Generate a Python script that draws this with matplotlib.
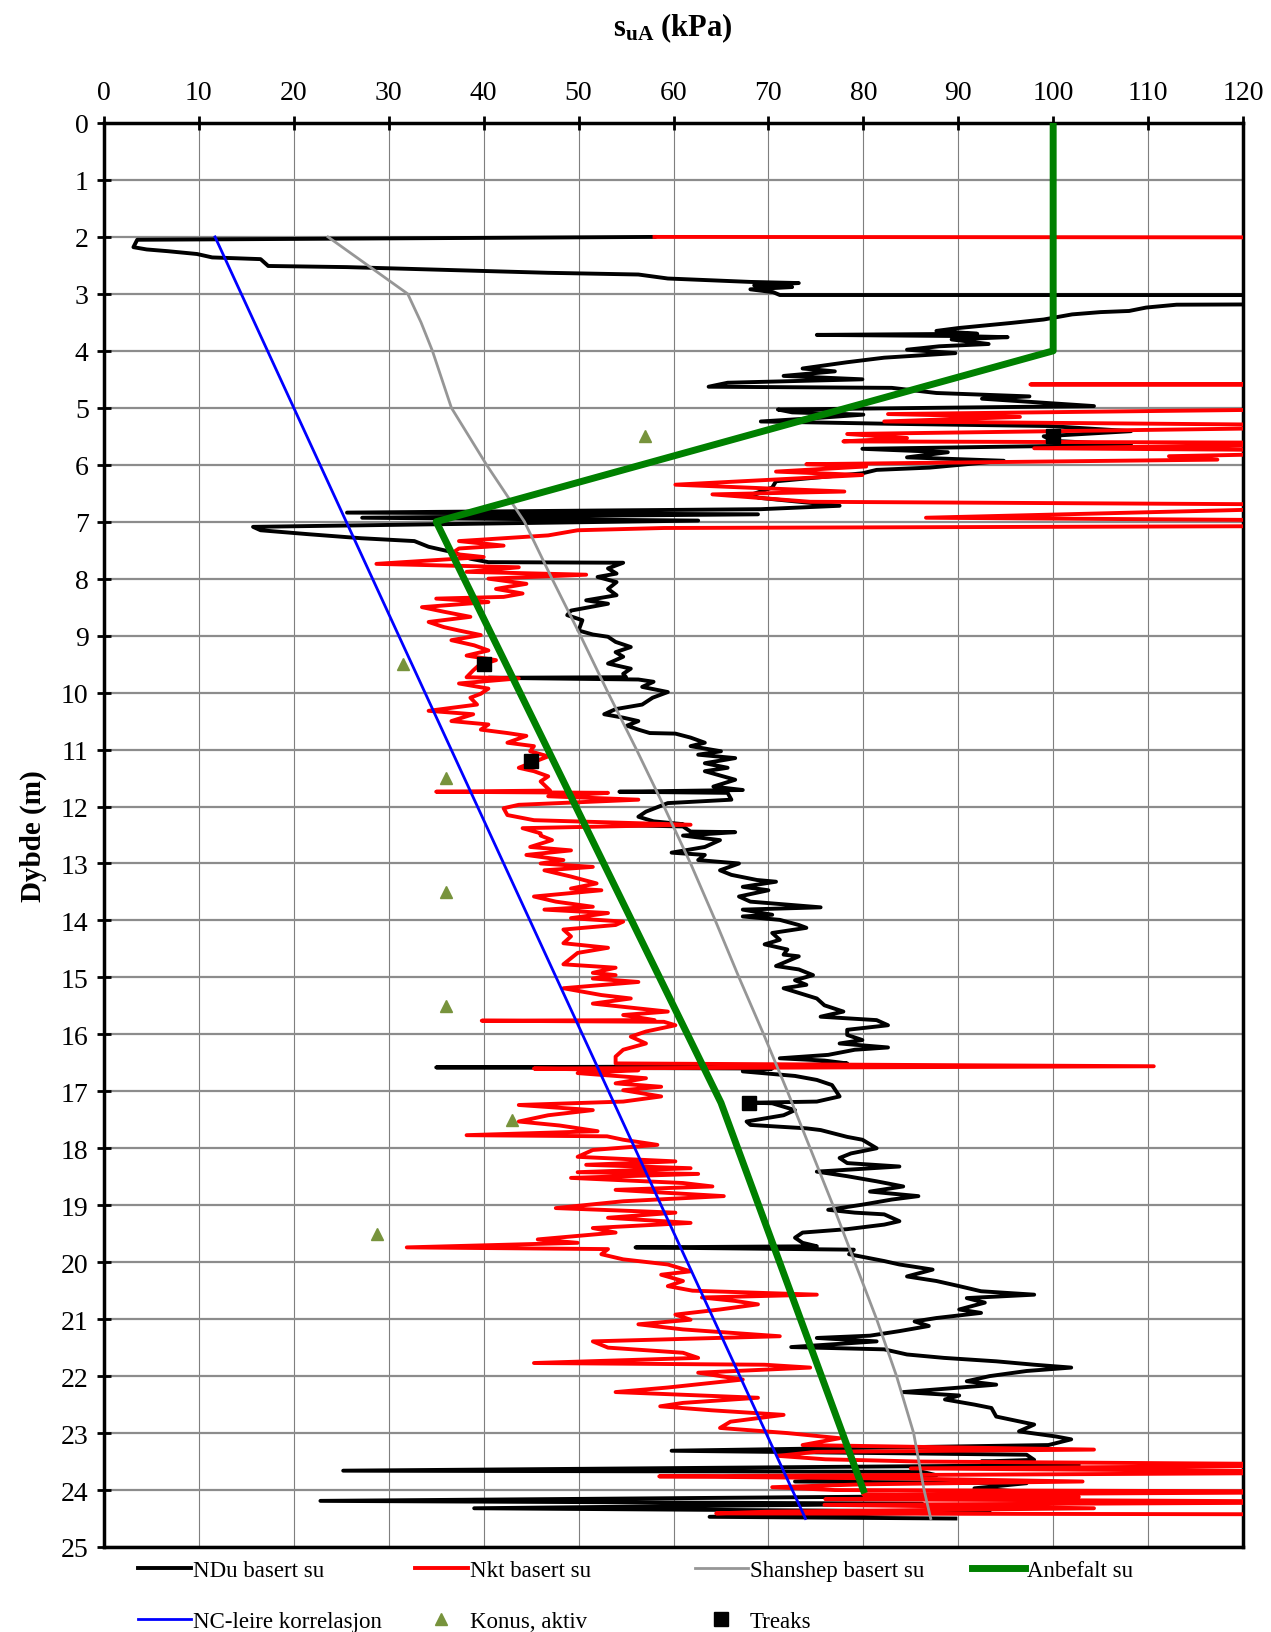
import numpy as np
import matplotlib
matplotlib.use("Agg")
import matplotlib.pyplot as plt

plt.rcParams['font.family'] = ['Liberation Serif', 'DejaVu Serif']
plt.rcParams['mathtext.fontset'] = 'custom'
plt.rcParams['mathtext.rm'] = 'Liberation Serif'
plt.rcParams['mathtext.bf'] = 'Liberation Serif:bold'

# NDu basert su (depth m, su kPa)
ndu_depth = [2.00, 2.05, 2.18, 2.22, 2.25, 2.30, 2.36, 2.39, 2.51, 2.53, 2.57, 2.63, 2.66, 2.73, 2.79, 2.81,
             2.85, 2.88, 2.92, 2.97, 3.02, 3.021, 3.18, 3.19, 3.24, 3.30, 3.32, 3.36, 3.45, 3.51, 3.60, 3.65,
             3.70, 3.72, 3.74, 3.76, 3.80, 3.88, 3.92, 3.98, 4.04, 4.12, 4.20, 4.31, 4.36, 4.44, 4.50, 4.56,
             4.63, 4.65, 4.74, 4.80, 4.84, 4.90, 4.97, 5.03, 5.08, 5.12, 5.18, 5.24, 5.28, 5.32, 5.41, 5.50,
             5.58, 5.65, 5.72, 5.78, 5.87, 5.93, 6.05, 6.09, 6.15, 6.29, 6.40, 6.53, 6.58, 6.72, 6.78, 6.84,
             6.87, 6.93, 6.98, 7.09, 7.15, 7.22, 7.29, 7.34, 7.44, 7.53, 7.65, 7.71, 7.72, 7.82, 7.91, 7.97,
             8.06, 8.18, 8.29, 8.38, 8.44, 8.56, 8.64, 8.73, 8.91, 8.98, 9.02, 9.11, 9.20, 9.29, 9.37, 9.49,
             9.58, 9.67, 9.73, 9.74, 9.77, 9.81, 9.90, 9.99, 10.09, 10.21, 10.29, 10.38, 10.44, 10.50, 10.58,
             10.65, 10.71, 10.72, 10.79, 10.88, 10.94, 11.03, 11.09, 11.15, 11.24, 11.32, 11.38, 11.53, 11.65,
             11.71, 11.74, 11.76, 11.88, 11.94, 12.09, 12.18, 12.26, 12.31, 12.33, 12.35, 12.44, 12.45, 12.51,
             12.59, 12.71, 12.81, 12.85, 12.94, 13.00, 13.12, 13.20, 13.29, 13.32, 13.41, 13.47, 13.58, 13.67,
             13.77, 13.81, 13.90, 13.93, 13.99, 14.08, 14.13, 14.22, 14.34, 14.42, 14.51, 14.60, 14.63, 14.80,
             14.86, 14.96, 15.05, 15.13, 15.19, 15.37, 15.49, 15.60, 15.69, 15.75, 15.84, 15.92, 16.01, 16.10,
             16.16, 16.23, 16.27, 16.36, 16.42, 16.46, 16.51, 16.56, 16.58, 16.60, 16.65, 16.73, 16.80, 16.89,
             17.09, 17.18, 17.20, 17.21, 17.33, 17.42, 17.53, 17.59, 17.65, 17.68, 17.80, 17.85, 18.00, 18.09,
             18.17, 18.26, 18.32, 18.41, 18.49, 18.58, 18.67, 18.76, 18.84, 18.90, 18.99, 19.08, 19.13, 19.16,
             19.28, 19.34, 19.42, 19.48, 19.57, 19.66, 19.72, 19.74, 19.78, 19.86, 19.98, 20.04, 20.13, 20.25,
             20.33, 20.42, 20.51, 20.57, 20.63, 20.71, 20.83, 20.89, 20.98, 21.04, 21.12, 21.21, 21.29, 21.33,
             21.39, 21.49, 21.53, 21.62, 21.68, 21.74, 21.80, 21.85, 21.91, 22.00, 22.09, 22.15, 22.28, 22.34,
             22.41, 22.50, 22.56, 22.71, 22.85, 22.97, 23.06, 23.11, 23.21, 23.31, 23.38, 23.47, 23.50, 23.56,
             23.66, 23.68, 23.74, 23.85, 23.88, 23.97, 24.09, 24.19, 24.24, 24.32, 24.38, 24.47, 24.50]
ndu_su = [58, 3.5, 3.1, 4.5, 6.7, 9.8, 11.4, 16.5, 17.3, 25.6, 34.2, 46.8, 56.3, 59.4, 68.1, 73.2,
          68.5, 72.5, 68.1, 70.5, 71.2, 130, 130, 113, 109.8, 108, 105, 102, 99, 95.6, 90, 87.7,
          92, 75.1, 90, 95.2, 89.3, 93.2, 88, 84.6, 89.7, 82.2, 78.3, 73.6, 77, 71.6, 79.9, 65.7,
          63.7, 83, 87.7, 97.5, 92.5, 98, 104.3, 71, 72.5, 80, 75, 69.2, 82.6, 99.5, 108.2, 99,
          100, 108.2, 79.9, 88.9, 84.6, 94.8, 87, 81.4, 79.9, 70.8, 70.4, 68.1, 69, 77.5, 69.2, 25.6,
          68.9, 27.2, 62.6, 15.7, 16.5, 21.6, 27.1, 32.7, 34.2, 36.6, 38.6, 40.5, 54.7, 53.1, 54, 52,
          54, 53.1, 54, 50.8, 53.1, 49.2, 48.8, 50.4, 50, 51.5, 53.1, 53.9, 55.5, 53.9, 54.7, 53.1,
          55.5, 54.7, 55, 40.5, 56.3, 57.9, 56.7, 59.4, 57.8, 56.7, 53.9, 52.7, 54.7, 56.3, 55.1,
          56.3, 57.5, 60.2, 61.8, 63.3, 61.8, 65, 62.6, 66.5, 63.3, 65.7, 63.3, 66.5, 64.2,
          67.3, 54.3, 65.7, 66.1, 59.4, 57.1, 56.3, 57.9, 61, 55, 61, 61.8, 66.5, 61,
          64.9, 63.3, 59.8, 63.3, 62.6, 66.9, 64.9, 66.1, 68.8, 70.8, 67.3, 70, 66.9, 68.1,
          75.5, 67.3, 70.4, 67.3, 71.2, 73.2, 74, 70.4, 71.2, 69.6, 72, 71.6, 73.2, 70.8,
          73.2, 74.7, 72.8, 74, 71.6, 75.1, 75.9, 77.9, 75.5, 81.4, 82.6, 78.3, 78.3, 79.9,
          77.5, 82.6, 79.1, 76.3, 71.2, 75.9, 78.3, 70, 35, 70.4, 67.3, 72.8, 75.1, 76.7,
          77.5, 75.1, 68.3, 70.4, 72.8, 71.6, 67.7, 68.1, 74, 75.5, 78.3, 79.9, 81.4, 78.7,
          77.5, 78.3, 83.8, 75.1, 78.3, 81.4, 84.2, 80.7, 85.8, 83, 79.9, 76.3, 79.1, 82.2,
          83.8, 82.2, 78.3, 73.6, 72.8, 73.6, 75.1, 56, 79, 78.5, 82.2, 83.8, 87.3, 84.6,
          87.7, 90.1, 92.4, 98, 90.9, 92.8, 90.1, 92.4, 87.7, 85.4, 86.9, 83.8, 80.7, 75.1,
          81.4, 72.4, 82.2, 84.6, 88.5, 94, 98, 101.9, 97.2, 93.3, 90.9, 94, 84.2, 90.1,
          88.6, 91.7, 93.5, 94, 98, 96.4, 100.3, 101.9, 99.5, 59.8, 97.2, 98, 92.4, 102.7,
          25.2, 86.2, 87.7, 72.8, 97.2, 91.7, 101.9, 22.8, 86.2, 39, 93.3, 63.8, 89.7]

# Nkt basert su
nkt_depth = [2.00, 2.01, 4.58, 4.59, 4.60, 5.00, 5.11, 5.16, 5.24, 5.32, 5.46, 5.53, 5.59, 5.62, 5.71, 5.76,
             5.85, 5.91, 5.99, 6.03, 6.12, 6.18, 6.35, 6.47, 6.52, 6.65, 6.71, 6.93, 6.99, 7.07, 7.11, 7.15,
             7.24, 7.34, 7.42, 7.47, 7.56, 7.62, 7.74, 7.80, 7.88, 7.93, 8.00, 8.09, 8.18, 8.26, 8.32, 8.35,
             8.41, 8.50, 8.58, 8.67, 8.76, 8.85, 8.91, 8.99, 9.08, 9.17, 9.26, 9.35, 9.43, 9.52, 9.61, 9.73,
             9.75, 9.84, 9.93, 10.02, 10.09, 10.21, 10.32, 10.38, 10.50, 10.56, 10.65, 10.71, 10.76, 10.88,
             10.94, 11.03, 11.12, 11.32, 11.38, 11.47, 11.56, 11.72, 11.74, 11.76, 11.82, 11.88, 11.97, 12.03,
             12.15, 12.24, 12.32, 12.38, 12.47, 12.51, 12.59, 12.71, 12.77, 12.85, 12.94, 13.00, 13.06, 13.12,
             13.23, 13.35, 13.44, 13.47, 13.58, 13.67, 13.76, 13.81, 13.87, 13.96, 14.02, 14.08, 14.16, 14.28,
             14.40, 14.48, 14.57, 14.77, 14.83, 14.92, 14.96, 15.02, 15.08, 15.19, 15.31, 15.37, 15.46, 15.60,
             15.66, 15.75, 15.76, 15.78, 15.84, 15.95, 16.04, 16.16, 16.27, 16.39, 16.51, 16.56, 16.60, 16.63,
             16.68, 16.77, 16.86, 16.92, 16.98, 17.09, 17.18, 17.24, 17.33, 17.42, 17.53, 17.60, 17.70, 17.77,
             17.79, 17.85, 17.94, 18.03, 18.15, 18.23, 18.29, 18.35, 18.42, 18.45, 18.52, 18.61, 18.67, 18.73,
             18.84, 18.93, 19.05, 19.13, 19.22, 19.31, 19.40, 19.48, 19.60, 19.66, 19.74, 19.77, 19.86, 19.95,
             20.04, 20.16, 20.22, 20.33, 20.42, 20.50, 20.57, 20.62, 20.68, 20.74, 20.83, 20.92, 21.01, 21.09,
             21.18, 21.30, 21.39, 21.50, 21.59, 21.68, 21.77, 21.80, 21.85, 21.94, 22.06, 22.20, 22.28, 22.38,
             22.47, 22.53, 22.60, 22.68, 22.80, 22.91, 23.00, 23.09, 23.21, 23.29, 23.33, 23.40, 23.46, 23.50,
             23.56, 23.62, 23.69, 23.74, 23.76, 23.80, 23.85, 23.90, 23.95, 24.00, 24.03, 24.08, 24.12, 24.16,
             24.21, 24.26, 24.32, 24.38, 24.41, 24.43]
nkt_su = [58, 140, 140, 97.6, 140, 140, 82.6, 96.5, 82.2, 140, 78.3, 84.6, 77.9, 140, 98, 140,
          112.2, 117.3, 74, 80.3, 70.8, 79.9, 60.2, 78, 64.1, 74.4, 140, 86.6, 140, 140, 59, 49.9,
          46.8, 37.4, 42.1, 37.4, 36.6, 40, 28.7, 43.7, 38.2, 50.8, 40.5, 44.5, 41.3, 44.1, 42.1, 35,
          40.5, 33.5, 35.8, 38.6, 34.2, 35.8, 37.4, 39.7, 36.6, 39, 40.5, 38.2, 41.3, 39.5, 38.9, 38.2,
          43.7, 37.4, 40.5, 39.7, 38.6, 39.3, 34.2, 38.9, 36.6, 40.5, 39.7, 42.5, 44.5, 42.5,
          45.3, 44.9, 46.8, 43.7, 45.3, 46.8, 46, 47, 35, 53.1, 46.8, 56.3, 43.7, 42.1,
          42.5, 45.3, 61.8, 44.1, 46, 46, 47.2, 44.9, 49.2, 44.5, 48.4, 46, 51.5, 46.4,
          49.2, 51.9, 49.2, 52.4, 45.3, 47.6, 51.5, 46.4, 53.1, 49.2, 54.7, 53.9, 48.4, 49.2,
          48.4, 53.1, 49.9, 48.4, 53.9, 51.5, 53.9, 51.5, 56.3, 48.4, 52.4, 55.5, 51.5, 59.4,
          54.7, 58, 39.8, 59, 60.2, 57.1, 55.5, 57.1, 54.7, 53.9, 53.9, 110.6, 45.3, 56.3,
          49.9, 57.1, 53.9, 58.7, 54.7, 58.7, 54.7, 43.7, 51.5, 46.8, 43.7, 48, 52, 38.2,
          53, 54.7, 58.3, 51.5, 49.9, 60.2, 50.8, 61.8, 49.9, 62.6, 49.2, 61, 64.1, 53.9,
          65.3, 54.7, 47.6, 60.2, 53.1, 61.8, 51.5, 53.9, 45.7, 49.9, 31.9, 53.1, 52.4, 54.7,
          59.4, 61.8, 58.7, 61, 59.4, 62, 75.1, 63, 66.5, 68.9, 64.9, 60.2, 61.8, 56.3,
          61, 71.2, 51.5, 53.1, 61, 62.6, 45.3, 69.6, 74.4, 62.6, 67.3, 59.4, 53.9, 68.9,
          61, 58.6, 64, 71.6, 66, 64.9, 72, 77.5, 73.6, 104.3, 75, 71, 76, 86,
          140, 85, 140, 80, 58.5, 85, 103.1, 80, 70.4, 77, 140, 80, 102.7, 76,
          140, 75.9, 104.3, 70, 64.5, 140]

# Shanshep basert su
shansep_depth = [2, 3, 3.5, 4, 4.5, 5, 6, 7, 8, 9, 10, 11, 12, 13, 14, 15, 16, 17, 18, 19, 20, 21, 22, 23, 24, 24.5]
shansep_su = [23.6, 32, 33.4, 34.6, 35.6, 36.6, 40.3, 44.3, 47.2, 50.2, 53.1, 56.1, 59, 61.8, 64.4, 66.9,
              69.5, 72, 74.4, 76.8, 79.1, 81.4, 83.5, 85.3, 86.4, 87.1]

# Anbefalt su
anbefalt_depth = [0, 4.0, 7.0, 17.2, 24.0]
anbefalt_su = [100, 100, 35, 65, 80]

# NC-leire korrelasjon
nc_depth = [2.0, 24.5]
nc_su = [11.7, 73.9]

# Konus, aktiv
konus_depth = [5.5, 9.5, 11.5, 13.5, 15.5, 17.5, 19.5]
konus_su = [57, 31.5, 36, 36, 36, 43, 28.8]

# Treaks
treaks_depth = [5.5, 9.5, 11.2, 17.2]
treaks_su = [100, 40, 45, 68]

fig = plt.figure(figsize=(12.71, 16.33), dpi=100)
ax = fig.add_axes([104 / 1271, 1 - 1548 / 1633, (1243 - 104) / 1271, (1548 - 124) / 1633])

ax.plot(ndu_su, ndu_depth, color='black', lw=2.8, label='NDu basert su', zorder=3)
ax.plot(nkt_su, nkt_depth, color='#ff0000', lw=2.8, label='Nkt basert su', zorder=4)
ax.plot(shansep_su, shansep_depth, color='#969696', lw=2.0, label='Shanshep basert su', zorder=5)
ax.plot(anbefalt_su, anbefalt_depth, color='#008000', lw=5.0, label='Anbefalt su', zorder=6)
ax.plot(nc_su, nc_depth, color='#0000ff', lw=2.0, label='NC-leire korrelasjon', zorder=7)
ax.plot(konus_su, konus_depth, ls='none', marker='^', ms=8, color='#77933c', label='Konus, aktiv', zorder=8)
ax.plot(treaks_su, treaks_depth, ls='none', marker='s', ms=10, color='black', label='Treaks', zorder=9)

ax.set_xlim(0, 120)
ax.set_ylim(25, 0)
ax.set_xticks(np.arange(0, 121, 10))
ax.set_yticks(np.arange(0, 26, 1))
ax.xaxis.tick_top()
ax.tick_params(axis='both', labelsize=20, direction='inout', length=10, width=2)
ax.tick_params(axis='x', pad=8)
ax.tick_params(axis='y', pad=6)

ax.xaxis.grid(True, color='#7f7f7f', lw=0.8)
ax.yaxis.grid(True, color='#8c8c8c', lw=1.6)
ax.set_axisbelow(True)
for sp in ax.spines.values():
    sp.set_linewidth(2.5)

fig.text(0.529, 0.983, r'$\mathbf{s_{uA}}$ (kPa)', ha='center', va='center', fontsize=22, fontweight='bold')
ax.set_ylabel('Dybde (m)', fontsize=21, fontweight='bold', labelpad=10)

handles, labels = ax.get_legend_handles_labels()
cols = [[0, 4], [1, 5], [2, 6], [3]]
xs = [138, 415, 695, 972]
for col, x in zip(cols, xs):
    fig.legend([handles[i] for i in col], [labels[i] for i in col],
               loc='upper left', bbox_to_anchor=(x / 1271, 1 - 1561 / 1633),
               frameon=False, fontsize=16.5, handlelength=2.3, handletextpad=0.1,
               borderpad=0, borderaxespad=0, labelspacing=1.3)

fig.savefig('out.png', dpi=100)
